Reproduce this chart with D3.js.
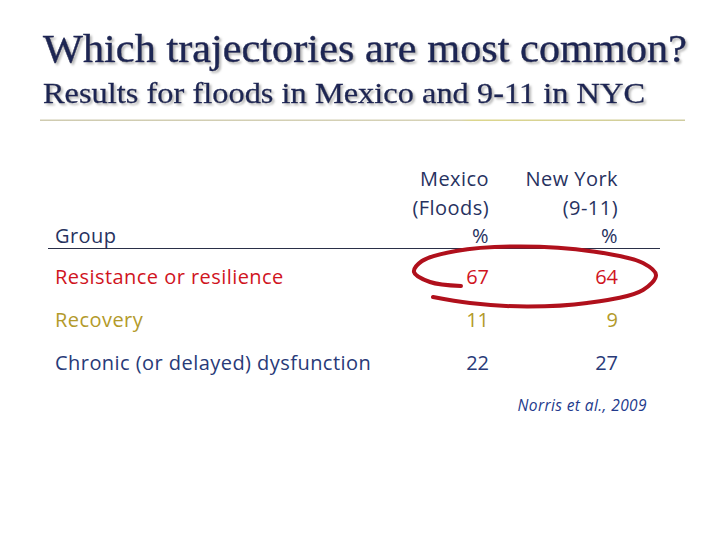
<!DOCTYPE html>
<html><head><meta charset="utf-8">
<script src="https://cdn.jsdelivr.net/npm/d3@7"></script>
<style>body{margin:0;background:#fff}svg{display:block}</style>
</head><body>
<svg id="c" width="720" height="540"></svg>
<script>
const title = "Which trajectories are most common?";
const subtitle = "Results for floods in Mexico and 9-11 in NYC";
const groups = ["Resistance or resilience", "Recovery", "Chronic (or delayed) dysfunction"];
const mexico = [67, 11, 22];
const newYork = [64, 9, 27];
const columns = ["Mexico", "New York"];
const headerLines = [["Mexico", "(Floods)", "%"], ["New York", "(9-11)", "%"]];
const rowColors = ["#d0141e", "#b39a2a", "#283a78"];
const citation = "Norris et al., 2009";

const svg = d3.select("#c");
const defs = svg.append("defs");
const f = defs.append("filter").attr("id","sh").attr("x","-5%").attr("y","-30%").attr("width","110%").attr("height","170%");
f.append("feDropShadow").attr("dx",2).attr("dy",2).attr("stdDeviation",1.2).attr("flood-color","#9a9a9a").attr("flood-opacity",0.7);
const g1 = defs.append("linearGradient").attr("id","rule");
g1.append("stop").attr("offset","0").attr("stop-color","#cfcbb0");
g1.append("stop").attr("offset","0.65").attr("stop-color","#d6d2b6");
g1.append("stop").attr("offset","0.67").attr("stop-color","#dcd68c");
g1.append("stop").attr("offset","1").attr("stop-color","#cfcca0");

const serif = "'Liberation Serif', 'DejaVu Serif', serif";
svg.append("text").attr("x",43).attr("y",62).attr("font-family",serif)
  .attr("font-size",39).attr("fill","#1c2553").attr("stroke","#1c2553").attr("stroke-width",0.45).attr("filter","url(#sh)")
  .attr("textLength",644).attr("lengthAdjust","spacingAndGlyphs").text(title);
svg.append("text").attr("x",43).attr("y",103).attr("font-family",serif)
  .attr("font-size",30).attr("fill","#1c2553").attr("stroke","#1c2553").attr("stroke-width",0.35).attr("filter","url(#sh)")
  .attr("textLength",602).attr("lengthAdjust","spacingAndGlyphs").text(subtitle);
svg.append("rect").attr("x",40).attr("y",119.5).attr("width",645).attr("height",1.5).attr("fill","url(#rule)");

const font = "'Open Sans', Lato, sans-serif";
const ls = 0.45;
const colX = d3.scaleOrdinal().domain(columns).range([489, 618]);
const y = d3.scaleBand().domain(groups).range([256, 384]).paddingInner(0).paddingOuter(0);
const hy = d3.scaleLinear().domain([0, 2]).range([186, 243]);

// header
svg.append("text").attr("x",55).attr("y",hy(2)).attr("font-family",font).attr("font-size",20)
  .attr("letter-spacing",ls).attr("fill","#27325f").text("Group");
headerLines.forEach((lines, ci) => {
  svg.append("g").selectAll("text").data(lines).join("text")
    .attr("x", colX(columns[ci])).attr("y", (d,i) => hy(i)).attr("text-anchor","end")
    .attr("font-family",font).attr("font-size",20).attr("letter-spacing",ls).attr("fill","#27325f").text(d => d);
});
svg.append("line").attr("x1",48).attr("x2",660).attr("y1",248.5).attr("y2",248.5)
  .attr("stroke","#2a2f48").attr("stroke-width",1.2);

const rows = svg.append("g").selectAll("g").data(groups).join("g")
  .attr("transform", d => `translate(0,${y(d) + y.bandwidth()/2 + 7})`);
rows.append("text").attr("x",55).attr("font-family",font).attr("font-size",20).attr("letter-spacing",ls)
  .attr("fill",(d,i)=>rowColors[i]).text(d=>d);
rows.append("text").attr("x",colX("Mexico")).attr("text-anchor","end").attr("font-family",font).attr("font-size",20)
  .attr("fill",(d,i)=>rowColors[i]).text((d,i)=>mexico[i]);
rows.append("text").attr("x",colX("New York")).attr("text-anchor","end").attr("font-family",font).attr("font-size",20)
  .attr("fill",(d,i)=>rowColors[i]).text((d,i)=>newYork[i]);

svg.append("text").attr("x",647).attr("y",411).attr("text-anchor","end").attr("font-family",font)
  .attr("font-style","italic").attr("font-size",15.5).attr("letter-spacing",0.4).attr("fill","#233a8c").text(citation);

// hand-drawn loop around first row
const loop = [[461,286],[430,282],[414,272],[422,261],[456,251],[520,246.5],[593,251.5],[643,263],[656,275],[643,290],[587,303],[527,306.5],[470,303],[433,297]];
svg.append("path").attr("d", d3.line().curve(d3.curveCatmullRom.alpha(0.5))(loop))
  .attr("fill","none").attr("stroke","#b0101c").attr("stroke-width",4).attr("stroke-linecap","round");
</script>
</body></html>
